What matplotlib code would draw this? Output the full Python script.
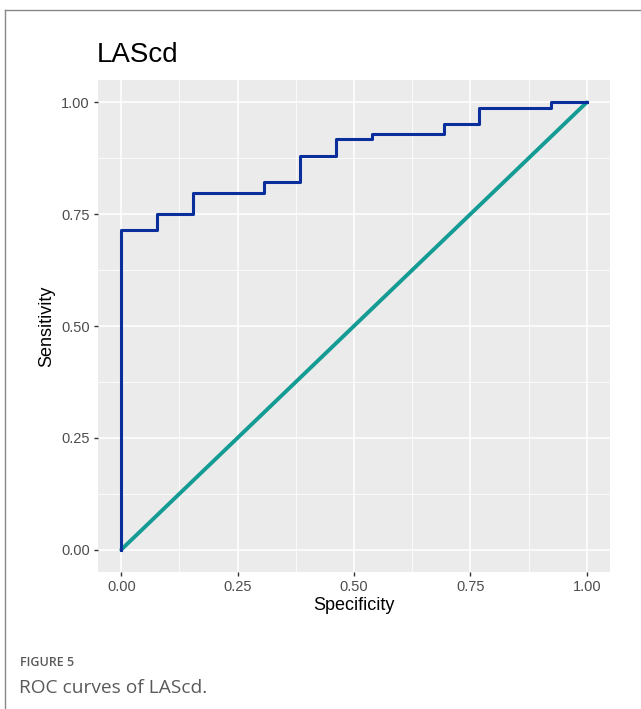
import matplotlib.pyplot as plt
from matplotlib.lines import Line2D
import numpy as np

# ROC curve (step curve)
spec = [0.0, 0.0, 1/13, 1/13, 2/13, 2/13, 4/13, 4/13, 5/13, 5/13, 6/13, 6/13,
        7/13, 7/13, 9/13, 9/13, 10/13, 10/13, 12/13, 12/13, 1.0]
sens = [0.0, 0.714, 0.714, 0.75, 0.75, 0.798, 0.798, 0.821, 0.821, 0.881, 0.881,
        0.917, 0.917, 0.929, 0.929, 0.952, 0.952, 0.988, 0.988, 1.0, 1.0]
diag = [0.0, 1.0]

ticks = [0.0, 0.25, 0.5, 0.75, 1.0]
tick_labels = ["0.00", "0.25", "0.50", "0.75", "1.00"]

plt.rcParams["font.family"] = ["Liberation Sans", "DejaVu Sans"]

W, H = 641, 709
fig = plt.figure(figsize=(W / 100, H / 100), dpi=100)
ax = fig.add_axes([98 / W, (H - 572) / H, (610 - 98) / W, (572 - 80) / H])

ax.set_facecolor("#EBEBEB")
for s in ax.spines.values():
    s.set_visible(False)

ax.set_xlim(-0.05, 1.05)
ax.set_ylim(-0.05, 1.05)
ax.set_xticks(ticks)
ax.set_xticklabels(tick_labels)
ax.set_yticks(ticks)
ax.set_yticklabels(tick_labels)
ax.set_xticks([0.125, 0.375, 0.625, 0.875], minor=True)
ax.set_yticks([0.125, 0.375, 0.625, 0.875], minor=True)
ax.grid(which="major", color="white", linewidth=1.1)
ax.grid(which="minor", color="white", linewidth=0.55)
ax.tick_params(which="major", length=3, width=1, color="#333333",
               labelsize=10.5, labelcolor="#4D4D4D", pad=3)
ax.tick_params(which="minor", length=0)
ax.set_axisbelow(True)

ax.plot(diag, diag, color="#149C94", linewidth=2.8, solid_capstyle="round")
ax.plot(spec, sens, color="#0A2F9C", linewidth=2.2)

ax.set_xlabel("Specificity", fontsize=13, labelpad=2)
ax.set_ylabel("Sensitivity", fontsize=13, labelpad=4)
fig.text(97 / W, 1 - 55 / H, "LAScd", fontsize=20, va="center", ha="left")

# caption
fig.text(20 / W, 1 - 663 / H, "FIGURE 5", fontsize=9, color="#5A5A5A",
         fontfamily="Open Sans", fontweight="semibold", va="center")
fig.text(19 / W, 1 - 688 / H, "ROC curves of LAScd.", fontsize=13.8,
         color="#5A5A5A", fontfamily="Open Sans", va="center")

# frame around the figure (left and top)
fig.add_artist(Line2D([5 / W, 5 / W], [0, 1 - 10 / H], color="#888888",
                      linewidth=1, transform=fig.transFigure))
fig.add_artist(Line2D([5 / W, 1], [1 - 10 / H, 1 - 10 / H], color="#888888",
                      linewidth=1, transform=fig.transFigure))

fig.savefig("out.png", dpi=100)
